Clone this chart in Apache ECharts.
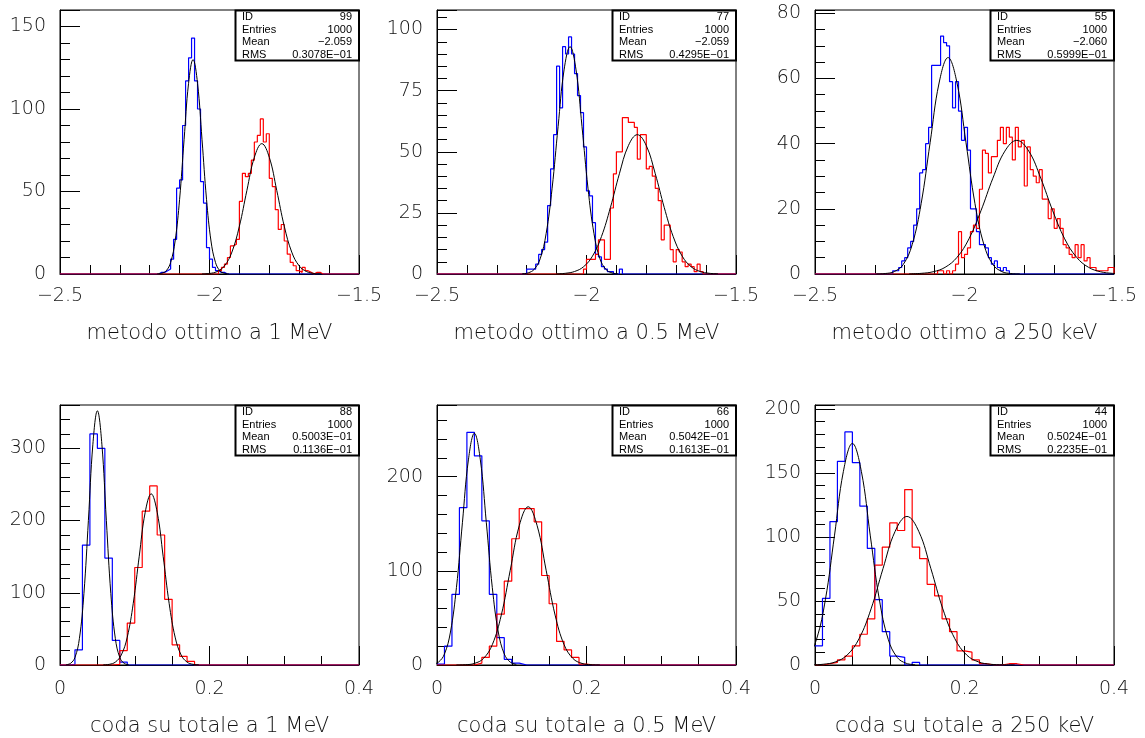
<!DOCTYPE html>
<html>
<head>
<meta charset="utf-8">
<script src="https://cdn.jsdelivr.net/npm/echarts@6/dist/echarts.min.js"></script>
<style>
  html, body { margin: 0; padding: 0; background: #ffffff; }
  #chart { width: 1145px; height: 738px; }
</style>
</head>
<body>
<div id="chart"></div>
<script>
// Axis ranges and binning (0.01 wide bins)
const topRange = [-2.5, -1.5];
const bottomRange = [0, 0.4];
const binWidth = 0.01;

// Axis titles
const axisTitles = [
  'metodo ottimo a 1 MeV', 'metodo ottimo a 0.5 MeV', 'metodo ottimo a 250 keV',
  'coda su totale a 1 MeV', 'coda su totale a 0.5 MeV', 'coda su totale a 250 keV'
];

// Statistics boxes
const statIds = ['99', '77', '55', '88', '66', '44'];
const statEntries = ['1000', '1000', '1000', '1000', '1000', '1000'];
const statMeans = ['\u22122.059', '\u22122.059', '\u22122.060', '0.5003E\u221201', '0.5042E\u221201', '0.5024E\u221201'];
const statRms = ['0.3078E\u221201', '0.4295E\u221201', '0.5999E\u221201', '0.1136E\u221201', '0.1613E\u221201', '0.2235E\u221201'];

// Vertical scales
const yMaxes = [160, 108, 81, 360, 276, 203];
const yIntervals = [50, 25, 20, 100, 100, 50];
const yMinorSplits = [5, 5, 4, 5, 5, 5];

// Bin contents: first filled bin index, then counts
const blueFirst = [33, 30, 26, 1, 0, 0];
const redFirst = [53, 49, 41, 7, 5, 1];
const blueCounts1 = [1,1,2,3,9,21,52,57,90,117,131,143,117,100,56,43,16,9,4,2,1,1];
const redCounts1 = [2,4,6,10,17,18,21,44,61,59,61,69,80,84,94,80,85,58,53,39,27,30,20,12,7,5,2,1,4,2,1,0,1,1];
const blueCounts2 = [2,2,2,4,8,10,13,28,43,57,85,68,93,90,97,90,82,73,66,52,34,32,21,8,7,3,2,1,1,0,0,2];
const redCounts2 = [2,6,6,6,8,14,14,6,6,27,41,50,50,64,64,62,62,60,47,57,57,43,44,40,35,30,14,20,20,10,5,10,9,5,3,4,3,1,4,1];
const blueCounts3 = [1,1,2,4,5,8,10,15,20,31,32,40,45,64,64,64,73,71,70,59,51,59,50,41,45,38,20,20,13,9,9,8,5,3,4,2,1,2,1];
const redCounts3 = [1,1,0,1,0,1,3,13,5,6,8,13,15,14,26,38,37,31,36,36,41,45,40,45,42,35,45,39,41,27,39,32,30,28,32,23,23,17,20,14,17,14,9,8,6,5,9,5,9,4,5,2,2,1,1,1,1,2,2];
const blueCounts4 = [1,21,166,320,300,148,34,4];
const redCounts4 = [1,20,58,135,213,248,180,91,28,12,5];
const blueCounts5 = [1,20,75,167,247,222,153,75,29,6,2];
const redCounts5 = [2,8,20,54,89,134,166,166,152,95,65,25,16,8,1];
const blueCounts6 = [15,52,112,159,182,158,124,91,51,26,7,6,0,2];
const redCounts6 = [1,2,4,7,15,24,36,78,92,111,105,137,92,83,63,54,36,26,11,10,4,1,0,0,1,1];

// Gaussian fit curves, sampled points [x, y]
const fitBlue1 = [[-2.175,0.07],[-2.16,0.42],[-2.145,1.9],[-2.13,7.0],[-2.115,20.0],[-2.1,45.3],[-2.085,81.4],[-2.07,115.6],[-2.055,130],[-2.04,115.6],[-2.025,81.4],[-2.01,45.3],[-1.995,20.0],[-1.98,7.0],[-1.965,1.9],[-1.95,0.42],[-1.935,0.07]];
const fitRed1 = [[-2.025,0.06],[-2.0,0.34],[-1.975,1.44],[-1.95,4.9],[-1.925,13.3],[-1.9,29.0],[-1.875,50.6],[-1.85,70.7],[-1.825,79],[-1.8,70.7],[-1.775,50.6],[-1.75,29.0],[-1.725,13.3],[-1.7,4.9],[-1.675,1.44],[-1.65,0.34],[-1.625,0.06]];
const fitBlue2 = [[-2.215,0.09],[-2.195,0.46],[-2.175,1.9],[-2.155,6.2],[-2.135,16.5],[-2.115,35.1],[-2.095,60.3],[-2.075,83.5],[-2.055,93],[-2.035,83.5],[-2.015,60.3],[-1.995,35.1],[-1.975,16.5],[-1.955,6.2],[-1.935,1.9],[-1.915,0.46],[-1.895,0.09]];
const fitRed2 = [[-2.1,0.07],[-2.07,0.3],[-2.04,1.02],[-2.01,2.96],[-1.98,7.31],[-1.95,15.3],[-1.92,27.2],[-1.89,41.0],[-1.86,52.5],[-1.83,57],[-1.8,52.5],[-1.77,41.0],[-1.74,27.2],[-1.71,15.3],[-1.68,7.31],[-1.65,2.96],[-1.62,1.02],[-1.59,0.3],[-1.56,0.07]];
const fitBlue3 = [[-2.295,0.02],[-2.265,0.15],[-2.235,0.74],[-2.205,2.9],[-2.175,9.0],[-2.145,21.6],[-2.115,40.3],[-2.085,58.6],[-2.055,66.4],[-2.025,58.6],[-1.995,40.3],[-1.965,21.6],[-1.935,9.0],[-1.905,2.9],[-1.875,0.74],[-1.845,0.15],[-1.815,0.02]];
const fitRed3 = [[-2.185,0.05],[-2.145,0.2],[-2.105,0.69],[-2.065,2.04],[-2.025,5.11],[-1.985,10.8],[-1.945,19.4],[-1.905,29.4],[-1.865,37.7],[-1.825,41],[-1.785,37.7],[-1.745,29.4],[-1.705,19.4],[-1.665,10.8],[-1.625,5.11],[-1.585,2.04],[-1.545,0.69],[-1.505,0.2],[-1.465,0.05]];
const fitBlue4 = [[0.008,0.35],[0.014,2.2],[0.02,10.4],[0.026,36.9],[0.032,98.9],[0.038,200.3],[0.044,305.7],[0.05,352],[0.056,305.7],[0.062,200.3],[0.068,98.9],[0.074,36.9],[0.08,10.4],[0.086,2.2],[0.092,0.35]];
const fitRed4 = [[0.058,0.17],[0.066,0.91],[0.074,4.0],[0.082,13.9],[0.09,38.6],[0.098,85.4],[0.106,150.6],[0.114,211.6],[0.122,237],[0.13,211.6],[0.138,150.6],[0.146,85.4],[0.154,38.6],[0.162,13.9],[0.17,4.0],[0.178,0.91],[0.186,0.17]];
const fitBlue5 = [[-0.006,0.62],[0.002,3.05],[0.01,11.7],[0.018,35.0],[0.026,82.1],[0.034,151.0],[0.042,217.7],[0.05,246],[0.058,217.7],[0.066,151.0],[0.074,82.1],[0.082,35.0],[0.09,11.7],[0.098,3.05],[0.106,0.62]];
const fitRed5 = [[0.026,0.05],[0.038,0.31],[0.05,1.66],[0.062,6.8],[0.074,21.6],[0.086,53.0],[0.098,100.6],[0.11,147.8],[0.122,168],[0.134,147.8],[0.146,100.6],[0.158,53.0],[0.17,21.6],[0.182,6.8],[0.194,1.66],[0.206,0.31],[0.218,0.05]];
const fitBlue6 = [[-0.034,0.23],[-0.022,1.34],[-0.01,5.93],[0.002,20.0],[0.014,51.4],[0.026,100.8],[0.038,151.2],[0.05,173],[0.062,151.2],[0.074,100.8],[0.086,51.4],[0.098,20.0],[0.11,5.93],[0.122,1.34],[0.134,0.23]];
const fitRed6 = [[-0.021,0.02],[-0.005,0.11],[0.011,0.58],[0.027,2.36],[0.043,7.76],[0.059,20.6],[0.075,43.8],[0.091,75.3],[0.107,104.1],[0.123,116],[0.139,104.1],[0.155,75.3],[0.171,43.8],[0.187,20.6],[0.203,7.76],[0.219,2.36],[0.235,0.58],[0.251,0.11],[0.267,0.02]];

const blueCounts = [blueCounts1, blueCounts2, blueCounts3, blueCounts4, blueCounts5, blueCounts6];
const redCounts = [redCounts1, redCounts2, redCounts3, redCounts4, redCounts5, redCounts6];
const fitsBlue = [fitBlue1, fitBlue2, fitBlue3, fitBlue4, fitBlue5, fitBlue6];
const fitsRed = [fitRed1, fitRed2, fitRed3, fitRed4, fitRed5, fitRed6];

// Turn bin contents into a closed step outline over the whole range
function histogramOutline(counts, first, range) {
  const nBins = Math.round((range[1] - range[0]) / binWidth);
  const pts = [];
  for (let i = 0; i < nBins; i++) {
    const k = i - first;
    const v = (k >= 0 && k < counts.length) ? counts[k] : 0;
    pts.push([+(range[0] + i * binWidth).toFixed(4), v]);
  }
  pts.push([range[1], 0]);
  return pts;
}

const FONT = "'DejaVu Sans', 'Liberation Sans', sans-serif";
const minus = v => String(v).replace('-', '\u2212');

const gridLefts = [60, 437, 815];
const gridTops = [10, 405];
const GW = 299, GH = 264;

const grids = [], xAxes = [], yAxes = [], series = [], graphics = [];

for (let p = 0; p < 6; p++) {
  const row = Math.floor(p / 3), col = p % 3;
  const L = gridLefts[col], T = gridTops[row];
  const range = row === 0 ? topRange : bottomRange;

  grids.push({ left: L, top: T, width: GW, height: GH, show: true,
    borderColor: '#000', borderWidth: 1, backgroundColor: '#fff' });

  xAxes.push({
    type: 'value', gridIndex: p, min: range[0], max: range[1],
    interval: row === 0 ? 0.5 : 0.2,
    name: axisTitles[p], nameLocation: 'middle', nameGap: row === 0 ? 49 : 51,
    nameTextStyle: { fontFamily: FONT, fontSize: 21, fontWeight: 200, color: '#111' },
    axisLine: { show: true, lineStyle: { color: '#000', width: 1 } },
    axisTick: { show: true, inside: true, length: 19, lineStyle: { color: '#000', width: 1 } },
    minorTick: { show: true, splitNumber: row === 0 ? 5 : 4, length: 9, lineStyle: { color: '#000', width: 1 } },
    splitLine: { show: false },
    axisLabel: { margin: row === 0 ? 13 : 15, fontFamily: FONT, fontSize: 19, fontWeight: 200, color: '#111', formatter: minus }
  });

  yAxes.push({
    type: 'value', gridIndex: p, min: 0, max: yMaxes[p], interval: yIntervals[p],
    axisLine: { show: true, lineStyle: { color: '#000', width: 1 } },
    axisTick: { show: true, inside: true, length: 20, lineStyle: { color: '#000', width: 1 } },
    minorTick: { show: true, splitNumber: yMinorSplits[p], length: 10, lineStyle: { color: '#000', width: 1 } },
    splitLine: { show: false },
    axisLabel: { margin: 14, fontFamily: FONT, fontSize: 19, fontWeight: 200, color: '#111', showMaxLabel: false }
  });

  series.push({
    type: 'line', xAxisIndex: p, yAxisIndex: p, step: 'end', symbol: 'none',
    data: histogramOutline(blueCounts[p], blueFirst[p], range),
    lineStyle: { color: '#0000ff', width: 1.2 }, z: 2
  });
  series.push({
    type: 'line', xAxisIndex: p, yAxisIndex: p, step: 'end', symbol: 'none',
    data: histogramOutline(redCounts[p], redFirst[p], range),
    lineStyle: { color: '#ff0000', width: 1.2 }, z: 3
  });
  [fitsBlue[p], fitsRed[p]].forEach(fit => series.push({
    type: 'line', xAxisIndex: p, yAxisIndex: p, smooth: 0.4, symbol: 'none',
    data: fit, lineStyle: { color: '#000', width: 1 }, z: 4
  }));

  // statistics box in the upper right corner
  const labels = ['ID', 'Entries', 'Mean', 'RMS'];
  const values = [statIds[p], statEntries[p], statMeans[p], statRms[p]];
  const children = [{
    type: 'rect', shape: { x: L + 175.5, y: T + 0.5, width: 123.5, height: 50 },
    style: { fill: '#fff', stroke: '#000', lineWidth: 2 }
  }];
  for (let r = 0; r < 4; r++) {
    const y = T + 7 + r * 12.6;
    children.push({ type: 'text', x: L + 182, y: y,
      style: { text: labels[r], fill: '#000', font: "11px 'Liberation Sans', Arial, sans-serif",
        textAlign: 'left', textVerticalAlign: 'middle' } });
    children.push({ type: 'text', x: L + 292, y: y,
      style: { text: values[r], fill: '#000', font: "11px 'Liberation Sans', Arial, sans-serif",
        textAlign: 'right', textVerticalAlign: 'middle' } });
  }
  graphics.push({ type: 'group', z: 100, children: children });
}

const chart = echarts.init(document.getElementById('chart'), null, { renderer: 'canvas' });
chart.setOption({
  animation: false,
  backgroundColor: '#ffffff',
  grid: grids,
  xAxis: xAxes,
  yAxis: yAxes,
  series: series,
  graphic: graphics
});
</script>
</body>
</html>
